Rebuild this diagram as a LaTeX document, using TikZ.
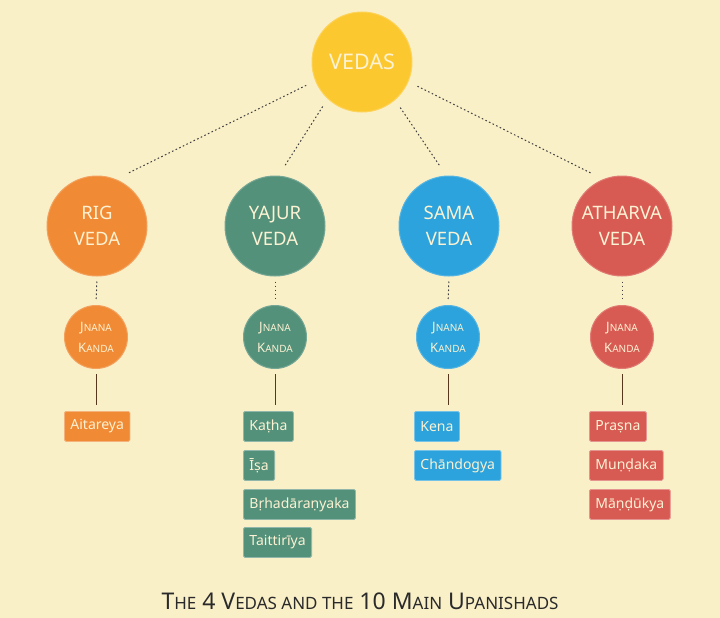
\documentclass[tikz,border=0pt]{standalone}
\usepackage{fontspec}
\setmainfont{Noto Sans}
\definecolor{bg}{HTML}{FAF0C8}
\definecolor{cyel}{HTML}{FCC830}
\definecolor{corg}{HTML}{F08A34}
\definecolor{cgrn}{HTML}{54917A}
\definecolor{cblu}{HTML}{2CA3DC}
\definecolor{cred}{HTML}{D85B53}
\definecolor{txt}{HTML}{FCF2D4}
\definecolor{ttl}{HTML}{2A2A2A}
\newcommand\smc[2]{#1{\fontsize{10}{21}\selectfont #2}}
\newcommand\tsc[2]{#1{\fontsize{17}{22}\selectfont #2}}
\begin{document}
\begin{tikzpicture}[x=1pt,y=-1pt,
  veda/.style={circle, minimum size=100pt, inner sep=0pt, fill=#1, draw=#1!80!white, line width=1pt, text=txt, align=center, font=\fontsize{18.5}{26}\selectfont},
  jn/.style={circle, minimum size=63pt, inner sep=0pt, fill=#1, draw=#1!80!white, line width=1pt, text=txt, align=center, font=\fontsize{13}{21}\selectfont},
  ubox/.style={rectangle, rounded corners=1.5pt, fill=#1, draw=#1!65!white, line width=0.8pt, anchor=north west, minimum height=30pt, inner xsep=6pt, text=txt, font=\fontsize{14}{16}\selectfont},
  dotline/.style={draw=black!75, line width=1pt, dash pattern=on 1.6pt off 2.4pt},
  solidline/.style={draw=black!55!brown, line width=0.8pt}]
\useasboundingbox[fill=bg] (0,0) rectangle (720,618);

\node[veda=cyel, font=\fontsize{21.5}{26}\selectfont] (vedas) at (362,62) {VEDAS};

\node[veda=corg] (rig) at (97,226) {RIG\\VEDA};
\node[veda=cgrn] (yaj) at (275,226) {YAJUR\\VEDA};
\node[veda=cblu] (sam) at (449,226) {SAMA\\VEDA};
\node[veda=cred] (ath) at (622,226) {ATHARVA\\VEDA};

\node[jn=corg] (rigj) at (96,337) {\smc{J}{NANA}\\\smc{K}{ANDA}};
\node[jn=cgrn] (yajj) at (275,337) {\smc{J}{NANA}\\\smc{K}{ANDA}};
\node[jn=cblu] (samj) at (448,337) {\smc{J}{NANA}\\\smc{K}{ANDA}};
\node[jn=cred] (athj) at (622,337) {\smc{J}{NANA}\\\smc{K}{ANDA}};

\node[ubox=corg] (ait) at (64,411) {Aitareya};

\node[ubox=cgrn] (kat) at (243,411) {Kaṭha};
\node[ubox=cgrn] (isa) at (243,450) {Īṣa};
\node[ubox=cgrn] (brh) at (243,489) {Bṛhadāraṇyaka};
\node[ubox=cgrn] (tai) at (243,527) {Taittirīya};

\node[ubox=cblu] (ken) at (414,411) {Kena};
\node[ubox=cblu] (cha) at (414,450) {Chāndogya};

\node[ubox=cred] (pra) at (589,411) {Praṣna};
\node[ubox=cred] (mun) at (589,450) {Muṇḍaka};
\node[ubox=cred] (man) at (589,489) {Māṇḍūkya};

% dotted connectors from VEDAS
\draw[dotline, shorten <=10pt, shorten >=14pt] (vedas.202) -- (rig.68);
\draw[dotline, shorten <=9pt, shorten >=11pt] (vedas.227) -- (yaj.86);
\draw[dotline, shorten <=9pt, shorten >=11pt] (vedas.311) -- (sam.93);
\draw[dotline, shorten <=10pt, shorten >=14pt] (vedas.337) -- (ath.112);

% veda -> jnana
\foreach \a/\b in {rig/rigj, yaj/yajj, sam/samj, ath/athj}
  \draw[dotline, shorten <=5pt, shorten >=6pt] (\a.south) -- (\b.north);

% jnana -> first box
\draw[solidline, shorten <=5pt, shorten >=6pt] (rigj.south) -- (rigj.south |- ait.north);
\draw[solidline, shorten <=5pt, shorten >=6pt] (yajj.south) -- (yajj.south |- kat.north);
\draw[solidline, shorten <=5pt, shorten >=6pt] (samj.south) -- (samj.south |- ken.north);
\draw[solidline, shorten <=5pt, shorten >=6pt] (athj.south) -- (athj.south |- pra.north);

\node[text=ttl, font=\fontsize{23}{26}\selectfont] (title) at (360,601)
  {\tsc{T}{HE} 4 \tsc{V}{EDAS AND THE} 10 \tsc{M}{AIN} \tsc{U}{PANISHADS}};
\end{tikzpicture}
\end{document}
